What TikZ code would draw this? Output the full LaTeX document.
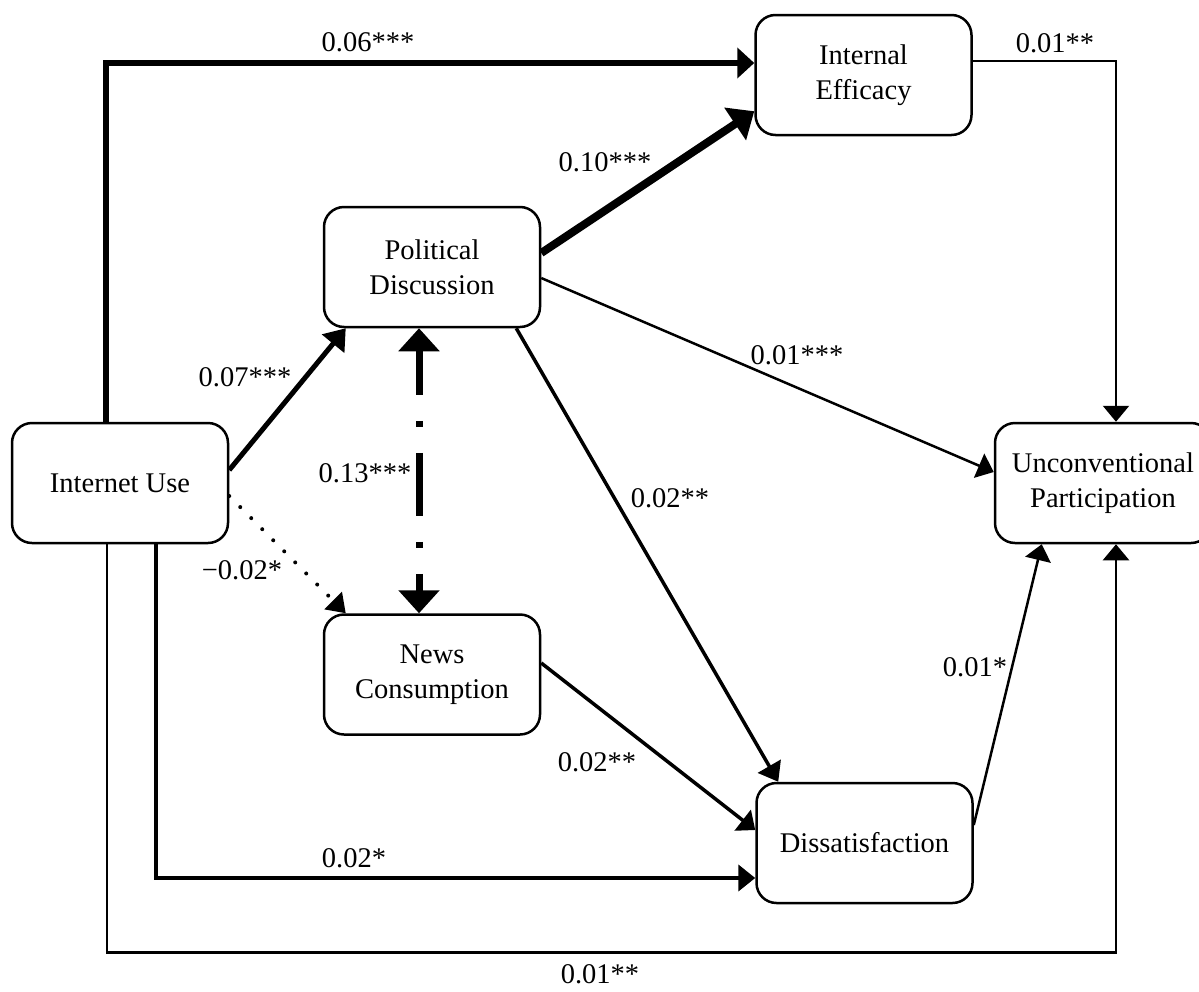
\documentclass[tikz,border=0pt]{standalone}
\usepackage{fontspec}
\setmainfont{Liberation Serif}
\usetikzlibrary{arrows.meta}
\begin{document}
\begin{tikzpicture}[x=1pt,y=-1pt,
  font=\fontsize{28.5}{35}\selectfont,
  box/.style={draw, line width=2.5pt, rounded corners=20pt, minimum width=216pt, minimum height=120pt, align=center, inner sep=0pt, fill=white},
  lbl/.style={inner sep=0pt},
  tip/.style={-{Triangle[length=16pt,width=26pt]}},
  bigtip/.style={-{Triangle[length=23pt,width=38pt]}},
  conn/.style={line width=2.5pt},
]
\clip (0,0) rectangle (1199,991);
\fill[white] (0,0) rectangle (1199,991);

% nodes
\node[box] (IU) at (120,483) {Internet Use};
\node[box] (PD) at (432,267) {Political\\Discussion};
\node[box] (NC) at (432,674.5) {News\\Consumption};
\node[box] (IE) at (863.5,75) {Internal\\Efficacy};
\node[box] (UP) at (1103,483) {Unconventional\\Participation};
\node[box] (D) at (864.5,843) {Dissatisfaction};

% connectors
\draw[line width=6pt, -{Triangle[length=17pt,width=30pt]}] ([xshift=-14pt]IU.north) |- ([yshift=12pt]IE.west);
\draw[conn, tip] ([yshift=14pt]IE.east) -| ([xshift=13pt]UP.north);
\draw[line width=5pt, -{Triangle[length=20pt,width=28pt]}] ([yshift=13pt]IU.east) -- ([xshift=23pt]PD.south west);
\draw[line width=8pt, bigtip] ([yshift=14pt]PD.east) -- ([yshift=25pt]IE.south west);
\draw[conn, tip] ([yshift=-11pt]PD.east) -- ([yshift=11pt]UP.west);
\draw[line width=3.5pt, -{Triangle[length=18pt,width=26pt]}] ([xshift=-25pt]PD.south east) -- ([xshift=23pt]D.north west);
\draw[line width=7pt, {Triangle[length=23pt,width=40pt]}-{Triangle[length=23pt,width=40pt]}, dash pattern=on 63pt off 26pt on 6pt off 26pt, dash phase=18pt] ([xshift=-13pt]PD.south) -- ([xshift=-13pt]NC.north);
\draw[line width=4pt, dash pattern=on 0pt off 15.6pt, line cap=round, -{Triangle[length=18pt,width=24pt]}] ([yshift=-13pt]IU.east) -- ([xshift=23pt]NC.north west);
\draw[line width=3.5pt, tip] ([yshift=11.5pt]NC.east) -- ([yshift=13pt]D.west);
\draw[line width=4.5pt, -{Triangle[length=17pt,width=26pt]}] ([xshift=36pt]IU.south) |- ([yshift=-35pt]D.west);
\draw[conn, tip] ([xshift=-13pt]IU.south) -- ++(0,408) -| ([xshift=13pt]UP.south);
\draw[conn, tip] ([yshift=18pt]D.east) -- ([xshift=48pt]UP.south west);

% labels
\node[lbl] (l1) at (368,42) {0.06***};
\node[lbl] (l2) at (1055,43) {0.01**};
\node[lbl] (l3) at (605,162) {0.10***};
\node[lbl] (l4) at (245,377) {0.07***};
\node[lbl] (l5) at (797,355) {0.01***};
\node[lbl] (l6) at (365,473) {0.13***};
\node[lbl] (l7) at (670,498) {0.02**};
\node[lbl] (l8) at (242,570) {−0.02*};
\node[lbl] (l9) at (975,667) {0.01*};
\node[lbl] (l10) at (597,762) {0.02**};
\node[lbl] (l11) at (354,858) {0.02*};
\node[lbl] (l12) at (600,974) {0.01**};
\end{tikzpicture}
\end{document}
